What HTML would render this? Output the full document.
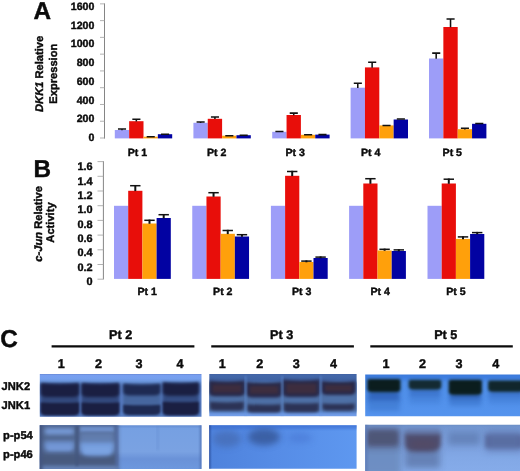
<!DOCTYPE html>
<html><head><meta charset="utf-8"><title>Figure</title>
<style>
html,body{margin:0;padding:0;background:#fff;}
body{width:520px;height:471px;overflow:hidden;font-family:"Liberation Sans",sans-serif;}
svg{display:block;}
text{font-family:"Liberation Sans",sans-serif;font-weight:bold;fill:#0a0a0a;stroke:#0a0a0a;stroke-width:0.42px;text-rendering:geometricPrecision;}
.tk{font-size:10.6px;}
.ax{font-size:11.15px;}
.pt{font-size:12.6px;}
.pl{font-size:24.3px;}
</style></head><body>
<svg width="520" height="471" viewBox="0 0 520 471">
<rect width="520" height="471" fill="#fff"/>
<defs>
<filter id="f1" x="-40%" y="-40%" width="180%" height="180%" color-interpolation-filters="sRGB"><feGaussianBlur stdDeviation="1.0"/></filter>
<filter id="f12" x="-40%" y="-40%" width="180%" height="180%" color-interpolation-filters="sRGB"><feGaussianBlur stdDeviation="1.2"/></filter>
<filter id="f15" x="-40%" y="-40%" width="180%" height="180%" color-interpolation-filters="sRGB"><feGaussianBlur stdDeviation="1.5"/></filter>
<filter id="f2" x="-60%" y="-60%" width="220%" height="220%" color-interpolation-filters="sRGB"><feGaussianBlur stdDeviation="2.2"/></filter>
<filter id="f3" x="-80%" y="-80%" width="260%" height="260%" color-interpolation-filters="sRGB"><feGaussianBlur stdDeviation="3.2"/></filter>
<filter id="f5" x="-120%" y="-120%" width="340%" height="340%" color-interpolation-filters="sRGB"><feGaussianBlur stdDeviation="5"/></filter>
<clipPath id="cA1"><rect x="39.8" y="374" width="161.7" height="42.8"/></clipPath>
<clipPath id="cA2"><rect x="39.8" y="425.2" width="161.7" height="43.7"/></clipPath>
<clipPath id="cB1"><rect x="209.3" y="374" width="147.3" height="42.3"/></clipPath>
<clipPath id="cB2"><rect x="209.2" y="425.2" width="147.4" height="43.5"/></clipPath>
<clipPath id="cC1"><rect x="365.2" y="374.6" width="155" height="41.7"/></clipPath>
<clipPath id="cC2"><rect x="365.2" y="424.8" width="155" height="47"/></clipPath>
<linearGradient id="gA1" x1="0" y1="0" x2="0" y2="1"><stop offset="0" stop-color="#5a74b8"/><stop offset="0.05" stop-color="#789ff0"/><stop offset="0.12" stop-color="#76a0ee"/><stop offset="0.2" stop-color="#6a96dc"/><stop offset="0.3" stop-color="#5c84cc"/><stop offset="0.6" stop-color="#5a80c8"/><stop offset="0.92" stop-color="#5a84cc"/><stop offset="1" stop-color="#5a7cc0"/></linearGradient>
<linearGradient id="gA2" x1="0" y1="0" x2="0" y2="1"><stop offset="0" stop-color="#5c84cc"/><stop offset="0.1" stop-color="#76a0e2"/><stop offset="0.6" stop-color="#7aa2e2"/><stop offset="0.76" stop-color="#6a92d8"/><stop offset="0.92" stop-color="#6c96dc"/><stop offset="1" stop-color="#6e98de"/></linearGradient>
<linearGradient id="gB1" x1="0" y1="0" x2="0" y2="1"><stop offset="0" stop-color="#3a5088"/><stop offset="0.04" stop-color="#4468aa"/><stop offset="0.14" stop-color="#4064a4"/><stop offset="0.5" stop-color="#5280d0"/><stop offset="0.88" stop-color="#6896e2"/><stop offset="1" stop-color="#7aa4ee"/></linearGradient>
<linearGradient id="gB2" x1="0" y1="0" x2="1" y2="0"><stop offset="0" stop-color="#4e82dc"/><stop offset="0.45" stop-color="#568ce6"/><stop offset="1" stop-color="#5e98f0"/></linearGradient>
<linearGradient id="gC1" x1="0" y1="0" x2="0" y2="1"><stop offset="0" stop-color="#3a78d8"/><stop offset="0.1" stop-color="#3e7ee0"/><stop offset="0.22" stop-color="#4e8ee8"/><stop offset="1" stop-color="#5594ee"/></linearGradient>
<linearGradient id="gC2" x1="0" y1="0" x2="0" y2="1"><stop offset="0" stop-color="#6688bc"/><stop offset="0.08" stop-color="#7498d2"/><stop offset="0.35" stop-color="#7a9edc"/><stop offset="0.7" stop-color="#82a8e6"/><stop offset="1" stop-color="#86acea"/></linearGradient>
</defs>
<g clip-path="url(#cA1)">
<rect x="39" y="373" width="164" height="45" fill="url(#gA1)"/>
<rect x="40.5" y="383.2" width="38.800000000000004" height="32.10000000000002" fill="#32487c" filter="url(#f15)"/>
<rect x="81.3" y="383.2" width="38.20000000000001" height="32.10000000000002" fill="#32487c" filter="url(#f15)"/>
<rect x="122.9" y="383.8" width="37.800000000000004" height="31.19999999999999" fill="#46669e" filter="url(#f15)"/>
<rect x="162.5" y="382.6" width="36.6" height="32.599999999999966" fill="#344c82" filter="url(#f15)"/>
<path d="M40.8 383.2Q59.9 385.2 79.0 383.2V392.9Q79.0 396.9 72.6 396.9H47.199999999999996Q40.8 396.9 40.8 392.9Z" fill="#1a1f42" filter="url(#f15)" opacity="1"/>
<path d="M40.8 402.6Q59.9 403.6 79.0 402.6V411.3Q79.0 415.3 72.6 415.3H47.199999999999996Q40.8 415.3 40.8 411.3Z" fill="#1a1f42" filter="url(#f12)" opacity="1"/>
<path d="M81.6 383.2Q100.4 385.2 119.2 383.2V392.9Q119.2 396.9 112.8 396.9H88.0Q81.6 396.9 81.6 392.9Z" fill="#1a1f42" filter="url(#f15)" opacity="1"/>
<path d="M81.6 402.6Q100.4 403.6 119.2 402.6V411.3Q119.2 415.3 112.8 415.3H88.0Q81.6 415.3 81.6 411.3Z" fill="#1a1f42" filter="url(#f12)" opacity="1"/>
<path d="M123.2 383.8Q141.8 385.8 160.4 383.8V391.4Q160.4 395.4 154.0 395.4H129.6Q123.2 395.4 123.2 391.4Z" fill="#1e2a52" filter="url(#f15)" opacity="1"/>
<path d="M123.2 404.8Q141.8 405.8 160.4 404.8V411.0Q160.4 415.0 154.0 415.0H129.6Q123.2 415.0 123.2 411.0Z" fill="#1e2a52" filter="url(#f12)" opacity="1"/>
<path d="M162.8 382.6Q180.8 384.6 198.8 382.6V391.8Q198.8 395.8 192.4 395.8H169.20000000000002Q162.8 395.8 162.8 391.8Z" fill="#1a1f42" filter="url(#f15)" opacity="1"/>
<path d="M162.8 401.8Q180.8 402.8 198.8 401.8V411.2Q198.8 415.2 192.4 415.2H169.20000000000002Q162.8 415.2 162.8 411.2Z" fill="#1a1f42" filter="url(#f12)" opacity="1"/>
</g>
<g clip-path="url(#cA2)">
<rect x="39" y="424" width="164" height="46" fill="url(#gA2)"/>
<rect x="32" y="418" width="86" height="58" fill="#50668f" filter="url(#f2)"/>
<rect x="36" y="454" width="80" height="10.5" fill="#485a7e" filter="url(#f2)"/>
<rect x="36" y="466" width="82" height="6" fill="#6480b4" filter="url(#f15)"/>
<rect x="36" y="422" width="6.5" height="50" fill="#445680" filter="url(#f15)"/>
<rect x="36" y="423" width="82" height="2.6" fill="#4a5c88" filter="url(#f1)" opacity="0.8"/>
<path d="M44.8 429.7Q44.8 428.2 46.3 428.2H72.5Q74.0 428.2 74.0 429.7V432.4Q74.0 434.4 70.8 434.4H48.0Q44.8 434.4 44.8 432.4Z" fill="#789cda" filter="url(#f2)" opacity="1"/>
<path d="M44.4 442.5Q44.4 441.0 45.9 441.0H72.9Q74.4 441.0 74.4 442.5V447.6Q74.4 451.6 68.0 451.6H50.8Q44.4 451.6 44.4 447.6Z" fill="#6e92d0" filter="url(#f2)" opacity="1"/>
<rect x="48" y="445.5" width="23" height="4.5" fill="#7699d8" filter="url(#f15)" opacity="0.8"/>
<rect x="80" y="426.5" width="34" height="5.5" fill="#7498d6" filter="url(#f15)" opacity="0.9"/>
<rect x="80" y="432.5" width="34" height="9" fill="#6480b2" filter="url(#f2)" opacity="0.9"/>
<path d="M79.6 442.9Q79.6 441.4 81.1 441.4H112.9Q114.4 441.4 114.4 442.9V449.0Q114.4 456.0 103.2 456.0H90.8Q79.6 456.0 79.6 449.0Z" fill="#749cdc" filter="url(#f2)" opacity="1"/>
<rect x="84" y="447" width="26" height="6.5" fill="#7ca4e2" filter="url(#f15)" opacity="0.85"/>
<rect x="75.6" y="426" width="2.6" height="40" fill="#44567e" filter="url(#f1)" opacity="0.9"/>
<rect x="115.6" y="426" width="2.2" height="40" fill="#5068a0" filter="url(#f1)" opacity="0.8"/>
<rect x="156.8" y="426" width="1.6" height="24" fill="#6088cc" filter="url(#f1)" opacity="0.5"/>
<rect x="199.8" y="424" width="3" height="46" fill="#5070b4" filter="url(#f1)" opacity="0.8"/>
</g>
<g clip-path="url(#cB1)">
<rect x="208" y="373" width="150" height="45" fill="url(#gB1)"/>
<rect x="206" y="382" width="154" height="30" fill="#4e70a6" filter="url(#f15)"/>
<path d="M209.0 380.6Q226.9 382.6 244.8 380.6V392.2Q244.8 396.2 238.4 396.2H215.4Q209.0 396.2 209.0 392.2Z" fill="#28294a" filter="url(#f15)" opacity="1"/>
<rect x="212.5" y="384.6" width="28.80000000000001" height="7.999999999999966" fill="#3f2e3e" filter="url(#f15)" opacity="0.95"/>
<path d="M210.0 401.8Q226.9 403.0 243.8 401.8V407.6Q243.8 410.6 239.0 410.6H214.8Q210.0 410.6 210.0 407.6Z" fill="#2c3356" filter="url(#f15)" opacity="1"/>
<path d="M246.4 382.0Q264.1 384.0 281.8 382.0V393.4Q281.8 397.4 275.40000000000003 397.4H252.8Q246.4 397.4 246.4 393.4Z" fill="#28294a" filter="url(#f15)" opacity="1"/>
<rect x="249.9" y="386.0" width="28.400000000000006" height="7.799999999999978" fill="#3f2e3e" filter="url(#f15)" opacity="0.95"/>
<path d="M247.4 404.2Q264.1 405.4 280.8 404.2V409.6Q280.8 412.6 276.0 412.6H252.20000000000002Q247.4 412.6 247.4 409.6Z" fill="#2c3356" filter="url(#f15)" opacity="1"/>
<path d="M282.8 379.6Q301.3 381.6 319.8 379.6V393.0Q319.8 397.0 313.40000000000003 397.0H289.2Q282.8 397.0 282.8 393.0Z" fill="#28294a" filter="url(#f15)" opacity="1"/>
<rect x="286.3" y="383.6" width="30.0" height="9.799999999999978" fill="#3f2e3e" filter="url(#f15)" opacity="0.95"/>
<path d="M283.8 403.0Q301.3 404.2 318.8 403.0V409.2Q318.8 412.2 314.0 412.2H288.6Q283.8 412.2 283.8 409.2Z" fill="#2c3356" filter="url(#f15)" opacity="1"/>
<path d="M321.4 381.0Q338.5 383.0 355.6 381.0V391.0Q355.6 395.0 349.20000000000005 395.0H327.79999999999995Q321.4 395.0 321.4 391.0Z" fill="#28294a" filter="url(#f15)" opacity="1"/>
<rect x="324.9" y="385.0" width="27.200000000000045" height="6.4" fill="#3f2e3e" filter="url(#f15)" opacity="0.95"/>
<path d="M322.4 403.4Q338.5 404.59999999999997 354.6 403.4V407.4Q354.6 410.4 349.8 410.4H327.2Q322.4 410.4 322.4 407.4Z" fill="#2c3356" filter="url(#f15)" opacity="1"/>
<rect x="244.79999999999998" y="376" width="1.6" height="42" fill="#6c9ce6" filter="url(#f1)" opacity="0.55"/>
<rect x="281.5" y="376" width="1.6" height="42" fill="#6c9ce6" filter="url(#f1)" opacity="0.55"/>
<rect x="319.8" y="376" width="1.6" height="42" fill="#6c9ce6" filter="url(#f1)" opacity="0.55"/>
</g>
<g clip-path="url(#cB2)">
<rect x="208" y="424" width="150" height="46" fill="url(#gB2)"/>
<rect x="206" y="423" width="154" height="5.5" fill="#3a6cd0" filter="url(#f15)" opacity="0.7"/>
<rect x="207" y="423" width="3.2" height="48" fill="#24408c" filter="url(#f1)" opacity="0.9"/>
<ellipse cx="227" cy="439" rx="14" ry="8" fill="#466cb4" opacity="0.75" filter="url(#f3)"/>
<ellipse cx="264" cy="437" rx="16" ry="8.5" fill="#3a5ea2" opacity="0.95" filter="url(#f3)"/>
<ellipse cx="300" cy="438" rx="12" ry="5" fill="#4674d0" opacity="0.5" filter="url(#f3)"/>
</g>
<g clip-path="url(#cC1)">
<rect x="364" y="373" width="158" height="45" fill="url(#gC1)"/>
<rect x="368.2" y="390.2" width="31.400000000000034" height="11.400000000000006" fill="#2c5eb4" filter="url(#f2)" opacity="0.8"/>
<rect x="368.2" y="399.71999999999997" width="31.400000000000034" height="11.280000000000006" fill="#3a74ca" filter="url(#f2)" opacity="0.5599999999999999"/>
<rect x="409.6" y="387.8" width="30.799999999999955" height="9.099999999999994" fill="#2c5eb4" filter="url(#f2)" opacity="0.5"/>
<rect x="409.6" y="395.48" width="30.799999999999955" height="8.519999999999992" fill="#3a74ca" filter="url(#f2)" opacity="0.35"/>
<rect x="449.6" y="393.0" width="31.399999999999977" height="7.5" fill="#2c5eb4" filter="url(#f2)" opacity="0.85"/>
<rect x="449.6" y="399.4" width="31.399999999999977" height="6.6" fill="#3a74ca" filter="url(#f2)" opacity="0.595"/>
<rect x="489.0" y="390.0" width="34.0" height="8.0" fill="#2c5eb4" filter="url(#f2)" opacity="0.5"/>
<rect x="489.0" y="396.8" width="34.0" height="7.199999999999999" fill="#3a74ca" filter="url(#f2)" opacity="0.35"/>
<path d="M367.2 380.5Q367.2 379.0 368.7 379.0H399.1Q400.6 379.0 400.6 380.5V388.7Q400.6 392.2 395.0 392.2H372.8Q367.2 392.2 367.2 388.7Z" fill="#0e2226" filter="url(#f15)" opacity="1"/>
<rect x="369.7" y="381.0" width="28.400000000000034" height="8.699999999999989" fill="#0b1d1e" filter="url(#f1)"/>
<path d="M408.6 381.3Q408.6 379.8 410.1 379.8H439.9Q441.4 379.8 441.4 381.3V386.3Q441.4 389.8 435.79999999999995 389.8H414.20000000000005Q408.6 389.8 408.6 386.3Z" fill="#16303a" filter="url(#f15)" opacity="1"/>
<rect x="411.1" y="381.8" width="27.799999999999955" height="5.5" fill="#142a32" filter="url(#f1)"/>
<path d="M448.6 381.3Q448.6 379.8 450.1 379.8H480.5Q482.0 379.8 482.0 381.3V391.5Q482.0 395.0 476.4 395.0H454.20000000000005Q448.6 395.0 448.6 391.5Z" fill="#0e2226" filter="url(#f15)" opacity="1"/>
<rect x="451.1" y="381.8" width="28.399999999999977" height="10.699999999999989" fill="#0b1d1e" filter="url(#f1)"/>
<path d="M488.0 382.1Q488.0 380.6 489.5 380.6H522.5Q524.0 380.6 524.0 382.1V388.5Q524.0 392.0 518.4 392.0H493.6Q488.0 392.0 488.0 388.5Z" fill="#142c34" filter="url(#f15)" opacity="1"/>
<rect x="490.5" y="382.6" width="31.0" height="6.899999999999977" fill="#11262c" filter="url(#f1)"/>
</g>
<g clip-path="url(#cC2)">
<rect x="364" y="423" width="158" height="50" fill="url(#gC2)"/>
<rect x="362" y="444" width="39" height="32" fill="#6a8abc" filter="url(#f3)" opacity="0.85"/>
<rect x="365.5" y="428.5" width="34" height="19" fill="#525a7e" filter="url(#f3)" opacity="0.97"/>
<rect x="368" y="432" width="29" height="12" fill="#4e5676" filter="url(#f2)" opacity="0.85"/>
<rect x="363" y="422" width="4.2" height="52" fill="#5a78b4" filter="url(#f15)" opacity="0.8"/>
<rect x="405" y="448" width="35" height="20" fill="#6480b4" filter="url(#f3)" opacity="0.95"/>
<rect x="404.5" y="428.5" width="36" height="6" fill="#60709e" filter="url(#f2)" opacity="0.6"/>
<path d="M404.5 433.5H441V443.5Q441 452 430 452H415Q404.5 452 404.5 443.5Z" fill="#4e4c6c" opacity="0.98" filter="url(#f2)"/>
<ellipse cx="423" cy="444" rx="13" ry="4" fill="#58485e" opacity="0.45" filter="url(#f2)"/>
<rect x="448" y="432" width="32" height="13" fill="#6280b6" filter="url(#f3)" opacity="0.85"/>
<rect x="485.5" y="434.5" width="37" height="13.5" fill="#505e8e" filter="url(#f2)" opacity="0.97"/>
<rect x="486" y="430" width="36" height="22" fill="#6078b0" filter="url(#f3)" opacity="0.6"/>
</g>
<g opacity="0.996">
<rect x="114.80" y="130.00" width="14.35" height="8.40" fill="#9d9df8"/>
<rect x="129.15" y="121.20" width="14.35" height="17.20" fill="#e80d09"/>
<rect x="143.50" y="136.70" width="14.35" height="1.70" fill="#ffa00a"/>
<rect x="157.85" y="134.20" width="14.35" height="4.20" fill="#0000a2"/>
<path d="M121.97 130.30V128.50M117.97 129.00H126.07" stroke="#111" stroke-width="1.55" fill="none"/>
<path d="M136.33 121.50V118.80M132.33 119.30H140.43" stroke="#111" stroke-width="1.55" fill="none"/>
<path d="M150.68 137.00V136.20M146.68 136.70H154.78" stroke="#111" stroke-width="1.55" fill="none"/>
<path d="M165.03 134.50V133.70M161.03 134.20H169.12" stroke="#111" stroke-width="1.55" fill="none"/>
<rect x="193.40" y="122.80" width="14.35" height="15.60" fill="#9d9df8"/>
<rect x="207.75" y="118.80" width="14.35" height="19.60" fill="#e80d09"/>
<rect x="222.10" y="135.70" width="14.35" height="2.70" fill="#ffa00a"/>
<rect x="236.45" y="135.20" width="14.35" height="3.20" fill="#0000a2"/>
<path d="M200.58 123.10V121.50M196.58 122.00H204.68" stroke="#111" stroke-width="1.55" fill="none"/>
<path d="M214.93 119.10V116.50M210.93 117.00H219.03" stroke="#111" stroke-width="1.55" fill="none"/>
<path d="M229.28 136.00V135.20M225.28 135.70H233.38" stroke="#111" stroke-width="1.55" fill="none"/>
<path d="M243.62 135.50V134.70M239.62 135.20H247.72" stroke="#111" stroke-width="1.55" fill="none"/>
<rect x="272.20" y="131.80" width="14.35" height="6.60" fill="#9d9df8"/>
<rect x="286.55" y="115.00" width="14.35" height="23.40" fill="#e80d09"/>
<rect x="300.90" y="134.80" width="14.35" height="3.60" fill="#ffa00a"/>
<rect x="315.25" y="134.60" width="14.35" height="3.80" fill="#0000a2"/>
<path d="M279.38 132.10V131.00M275.38 131.50H283.48" stroke="#111" stroke-width="1.55" fill="none"/>
<path d="M293.73 115.30V112.60M289.73 113.10H297.83" stroke="#111" stroke-width="1.55" fill="none"/>
<path d="M308.07 135.10V134.30M304.07 134.80H312.18" stroke="#111" stroke-width="1.55" fill="none"/>
<path d="M322.43 134.90V134.10M318.43 134.60H326.53" stroke="#111" stroke-width="1.55" fill="none"/>
<rect x="350.60" y="87.70" width="14.35" height="50.70" fill="#9d9df8"/>
<rect x="364.95" y="67.40" width="14.35" height="71.00" fill="#e80d09"/>
<rect x="379.30" y="125.40" width="14.35" height="13.00" fill="#ffa00a"/>
<rect x="393.65" y="119.50" width="14.35" height="18.90" fill="#0000a2"/>
<path d="M357.78 88.00V82.80M353.78 83.30H361.88" stroke="#111" stroke-width="1.55" fill="none"/>
<path d="M372.13 67.70V61.80M368.13 62.30H376.23" stroke="#111" stroke-width="1.55" fill="none"/>
<path d="M386.48 125.70V124.90M382.48 125.40H390.58" stroke="#111" stroke-width="1.55" fill="none"/>
<path d="M400.83 119.80V118.50M396.83 119.00H404.93" stroke="#111" stroke-width="1.55" fill="none"/>
<rect x="429.00" y="58.50" width="14.35" height="79.90" fill="#9d9df8"/>
<rect x="443.35" y="27.00" width="14.35" height="111.40" fill="#e80d09"/>
<rect x="457.70" y="129.20" width="14.35" height="9.20" fill="#ffa00a"/>
<rect x="472.05" y="123.80" width="14.35" height="14.60" fill="#0000a2"/>
<path d="M436.18 58.80V52.60M432.18 53.10H440.28" stroke="#111" stroke-width="1.55" fill="none"/>
<path d="M450.53 27.30V18.50M446.53 19.00H454.63" stroke="#111" stroke-width="1.55" fill="none"/>
<path d="M464.88 129.50V127.70M460.88 128.20H468.98" stroke="#111" stroke-width="1.55" fill="none"/>
<path d="M479.23 124.10V123.00M475.23 123.50H483.33" stroke="#111" stroke-width="1.55" fill="none"/>
<path d="M104.5 3.4V138.6" stroke="#858585" stroke-width="1" fill="none"/>
<path d="M100 3.85H104.5" stroke="#a4a4a4" stroke-width="0.85" fill="none"/>
<path d="M100 20.62H104.5" stroke="#a4a4a4" stroke-width="0.85" fill="none"/>
<path d="M100 37.39H104.5" stroke="#a4a4a4" stroke-width="0.85" fill="none"/>
<path d="M100 54.16H104.5" stroke="#a4a4a4" stroke-width="0.85" fill="none"/>
<path d="M100 70.93H104.5" stroke="#a4a4a4" stroke-width="0.85" fill="none"/>
<path d="M100 87.70H104.5" stroke="#a4a4a4" stroke-width="0.85" fill="none"/>
<path d="M100 104.47H104.5" stroke="#a4a4a4" stroke-width="0.85" fill="none"/>
<path d="M100 121.24H104.5" stroke="#a4a4a4" stroke-width="0.85" fill="none"/>
<path d="M100 138.01H104.5" stroke="#a4a4a4" stroke-width="0.85" fill="none"/>
<text x="94.4" y="9.90" text-anchor="end" class="tk">1600</text>
<text x="94.4" y="28.65" text-anchor="end" class="tk">1200</text>
<text x="94.4" y="47.40" text-anchor="end" class="tk">1000</text>
<text x="94.4" y="66.15" text-anchor="end" class="tk">800</text>
<text x="94.4" y="84.90" text-anchor="end" class="tk">600</text>
<text x="94.4" y="103.65" text-anchor="end" class="tk">400</text>
<text x="94.4" y="122.40" text-anchor="end" class="tk">200</text>
<text x="94.4" y="141.15" text-anchor="end" class="tk">0</text>
<text x="137.4" y="156" text-anchor="middle" class="tk">Pt 1</text>
<text x="216.6" y="156" text-anchor="middle" class="tk">Pt 2</text>
<text x="295.2" y="156" text-anchor="middle" class="tk">Pt 3</text>
<text x="370.6" y="156" text-anchor="middle" class="tk">Pt 4</text>
<text x="452.3" y="156" text-anchor="middle" class="tk">Pt 5</text>
<text x="33.6" y="18.8" class="pl">A</text>
<text transform="translate(43.4 73.85) rotate(-90)" text-anchor="middle" class="ax"><tspan font-style="italic">DKK1</tspan> Relative</text>
<text transform="translate(57.4 73.7) rotate(-90)" text-anchor="middle" class="ax">Expression</text>
<rect x="114.00" y="205.80" width="14.20" height="73.10" fill="#9d9df8"/>
<rect x="128.20" y="190.80" width="14.20" height="88.10" fill="#e80d09"/>
<rect x="142.40" y="223.50" width="14.20" height="55.40" fill="#ffa00a"/>
<rect x="156.60" y="218.00" width="14.20" height="60.90" fill="#0000a2"/>
<path d="M135.30 191.10V185.00" stroke="#111" stroke-width="2" fill="none"/>
<path d="M130.10 185.70H140.50" stroke="#111" stroke-width="1.5" fill="none"/>
<path d="M149.50 223.80V219.60" stroke="#111" stroke-width="2" fill="none"/>
<path d="M144.30 220.30H154.70" stroke="#111" stroke-width="1.5" fill="none"/>
<path d="M163.70 218.30V214.00" stroke="#111" stroke-width="2" fill="none"/>
<path d="M158.50 214.70H168.90" stroke="#111" stroke-width="1.5" fill="none"/>
<rect x="192.25" y="205.80" width="14.20" height="73.10" fill="#9d9df8"/>
<rect x="206.45" y="196.50" width="14.20" height="82.40" fill="#e80d09"/>
<rect x="220.65" y="233.80" width="14.20" height="45.10" fill="#ffa00a"/>
<rect x="234.85" y="236.50" width="14.20" height="42.40" fill="#0000a2"/>
<path d="M213.55 196.80V192.00" stroke="#111" stroke-width="2" fill="none"/>
<path d="M208.35 192.70H218.75" stroke="#111" stroke-width="1.5" fill="none"/>
<path d="M227.75 234.10V229.80" stroke="#111" stroke-width="2" fill="none"/>
<path d="M222.55 230.50H232.95" stroke="#111" stroke-width="1.5" fill="none"/>
<path d="M241.95 236.80V234.00" stroke="#111" stroke-width="2" fill="none"/>
<path d="M236.75 234.70H247.15" stroke="#111" stroke-width="1.5" fill="none"/>
<rect x="270.90" y="205.80" width="14.20" height="73.10" fill="#9d9df8"/>
<rect x="285.10" y="175.80" width="14.20" height="103.10" fill="#e80d09"/>
<rect x="299.30" y="262.00" width="14.20" height="16.90" fill="#ffa00a"/>
<rect x="313.50" y="258.00" width="14.20" height="20.90" fill="#0000a2"/>
<path d="M292.20 176.10V170.80" stroke="#111" stroke-width="2" fill="none"/>
<path d="M287.00 171.50H297.40" stroke="#111" stroke-width="1.5" fill="none"/>
<path d="M306.40 262.30V260.40" stroke="#111" stroke-width="2" fill="none"/>
<path d="M301.20 261.10H311.60" stroke="#111" stroke-width="1.5" fill="none"/>
<path d="M320.60 258.30V256.40" stroke="#111" stroke-width="2" fill="none"/>
<path d="M315.40 257.10H325.80" stroke="#111" stroke-width="1.5" fill="none"/>
<rect x="349.10" y="205.80" width="14.20" height="73.10" fill="#9d9df8"/>
<rect x="363.30" y="183.50" width="14.20" height="95.40" fill="#e80d09"/>
<rect x="377.50" y="250.50" width="14.20" height="28.40" fill="#ffa00a"/>
<rect x="391.70" y="251.00" width="14.20" height="27.90" fill="#0000a2"/>
<path d="M370.40 183.80V178.00" stroke="#111" stroke-width="2" fill="none"/>
<path d="M365.20 178.70H375.60" stroke="#111" stroke-width="1.5" fill="none"/>
<path d="M384.60 250.80V248.60" stroke="#111" stroke-width="2" fill="none"/>
<path d="M379.40 249.30H389.80" stroke="#111" stroke-width="1.5" fill="none"/>
<path d="M398.80 251.30V249.20" stroke="#111" stroke-width="2" fill="none"/>
<path d="M393.60 249.90H404.00" stroke="#111" stroke-width="1.5" fill="none"/>
<rect x="427.50" y="205.80" width="14.20" height="73.10" fill="#9d9df8"/>
<rect x="441.70" y="183.50" width="14.20" height="95.40" fill="#e80d09"/>
<rect x="455.90" y="238.90" width="14.20" height="40.00" fill="#ffa00a"/>
<rect x="470.10" y="234.00" width="14.20" height="44.90" fill="#0000a2"/>
<path d="M448.80 183.80V178.50" stroke="#111" stroke-width="2" fill="none"/>
<path d="M443.60 179.20H454.00" stroke="#111" stroke-width="1.5" fill="none"/>
<path d="M463.00 239.20V236.20" stroke="#111" stroke-width="2" fill="none"/>
<path d="M457.80 236.90H468.20" stroke="#111" stroke-width="1.5" fill="none"/>
<path d="M477.20 234.30V231.90" stroke="#111" stroke-width="2" fill="none"/>
<path d="M472.00 232.60H482.40" stroke="#111" stroke-width="1.5" fill="none"/>
<path d="M103.4 161.2V279.4" stroke="#858585" stroke-width="1" fill="none"/>
<path d="M97.5 161.60H103.4" stroke="#a4a4a4" stroke-width="0.85" fill="none"/>
<path d="M97.5 176.30H103.4" stroke="#a4a4a4" stroke-width="0.85" fill="none"/>
<path d="M97.5 191.00H103.4" stroke="#a4a4a4" stroke-width="0.85" fill="none"/>
<path d="M97.5 205.70H103.4" stroke="#a4a4a4" stroke-width="0.85" fill="none"/>
<path d="M97.5 220.40H103.4" stroke="#a4a4a4" stroke-width="0.85" fill="none"/>
<path d="M97.5 235.10H103.4" stroke="#a4a4a4" stroke-width="0.85" fill="none"/>
<path d="M97.5 249.80H103.4" stroke="#a4a4a4" stroke-width="0.85" fill="none"/>
<path d="M97.5 264.50H103.4" stroke="#a4a4a4" stroke-width="0.85" fill="none"/>
<path d="M97.5 279.20H103.4" stroke="#a4a4a4" stroke-width="0.85" fill="none"/>
<text x="92.6" y="170.40" text-anchor="end" class="tk" style="font-size:10.9px">1.6</text>
<text x="92.6" y="184.72" text-anchor="end" class="tk" style="font-size:10.9px">1.4</text>
<text x="92.6" y="199.04" text-anchor="end" class="tk" style="font-size:10.9px">1.2</text>
<text x="92.6" y="213.36" text-anchor="end" class="tk" style="font-size:10.9px">1.0</text>
<text x="92.6" y="227.68" text-anchor="end" class="tk" style="font-size:10.9px">0.8</text>
<text x="92.6" y="242.00" text-anchor="end" class="tk" style="font-size:10.9px">0.6</text>
<text x="92.6" y="256.32" text-anchor="end" class="tk" style="font-size:10.9px">0.4</text>
<text x="92.6" y="270.64" text-anchor="end" class="tk" style="font-size:10.9px">0.2</text>
<text x="92.6" y="284.96" text-anchor="end" class="tk" style="font-size:10.9px">0</text>
<text x="147.2" y="295.1" text-anchor="middle" class="tk">Pt 1</text>
<text x="222.8" y="295.1" text-anchor="middle" class="tk">Pt 2</text>
<text x="301.6" y="295.1" text-anchor="middle" class="tk">Pt 3</text>
<text x="380.1" y="295.1" text-anchor="middle" class="tk">Pt 4</text>
<text x="455.9" y="295.1" text-anchor="middle" class="tk">Pt 5</text>
<text x="33.6" y="177.2" class="pl">B</text>
<text transform="translate(42.1 223.9) rotate(-90)" text-anchor="middle" class="ax"><tspan font-style="italic">c-Jun</tspan> Relative</text>
<text transform="translate(54.3 222.5) rotate(-90)" text-anchor="middle" class="ax">Activity</text>
<text x="0.3" y="347.3" class="pl">C</text>
<path d="M51.6 346.4H194.4" stroke="#0a0a0a" stroke-width="2.3" fill="none"/>
<path d="M211.25 346.4H353.9" stroke="#0a0a0a" stroke-width="2.3" fill="none"/>
<path d="M370.3 346.4H512.8" stroke="#0a0a0a" stroke-width="2.3" fill="none"/>
<text x="120.65" y="339.3" text-anchor="middle" class="pt">Pt 2</text>
<text x="281.65" y="339.3" text-anchor="middle" class="pt">Pt 3</text>
<text x="445.75" y="339.3" text-anchor="middle" class="pt">Pt 5</text>
<text x="61.2" y="368.2" text-anchor="middle" class="pt">1</text>
<text x="98.6" y="368.2" text-anchor="middle" class="pt">2</text>
<text x="139" y="368.2" text-anchor="middle" class="pt">3</text>
<text x="180" y="368.2" text-anchor="middle" class="pt">4</text>
<text x="222.3" y="368.2" text-anchor="middle" class="pt">1</text>
<text x="259.7" y="368.2" text-anchor="middle" class="pt">2</text>
<text x="296.3" y="368.2" text-anchor="middle" class="pt">3</text>
<text x="333.4" y="368.2" text-anchor="middle" class="pt">4</text>
<text x="386.1" y="368.2" text-anchor="middle" class="pt">1</text>
<text x="422.6" y="368.2" text-anchor="middle" class="pt">2</text>
<text x="458.9" y="368.2" text-anchor="middle" class="pt">3</text>
<text x="495.8" y="368.2" text-anchor="middle" class="pt">4</text>
<text x="1.6" y="390.0" class="ax">JNK2</text>
<text x="1.6" y="408.5" class="ax">JNK1</text>
<text x="3.1" y="438.6" class="ax">p-p54</text>
<text x="3.1" y="458.4" class="ax">p-p46</text>
</g>
</svg>
</body></html>
